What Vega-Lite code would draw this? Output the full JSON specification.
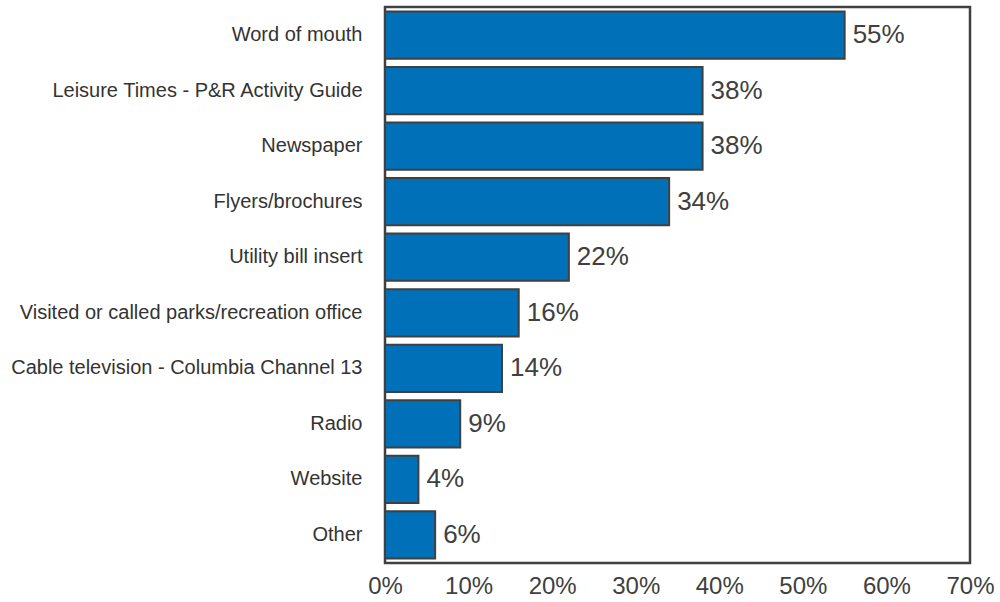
{
  "$schema": "https://vega.github.io/schema/vega-lite/v6.json",
  "autosize": {"type": "none"},
  "padding": {"left": 385, "top": 7, "right": 30, "bottom": 39},
  "width": 585,
  "height": 556,
  "background": "white",
  "view": {"stroke": "#404040", "strokeWidth": 2.5},
  "data": {"values": [
    {"source": "Word of mouth", "pct": 0.55},
    {"source": "Leisure Times - P&R Activity Guide\u00a0\u00a0", "pct": 0.38},
    {"source": "Newspaper", "pct": 0.38},
    {"source": "Flyers/brochures", "pct": 0.34},
    {"source": "Utility bill insert\u00a0", "pct": 0.22},
    {"source": "Visited or called parks/recreation office\u00a0\u00a0", "pct": 0.16},
    {"source": "Cable television - Columbia Channel 13\u00a0", "pct": 0.14},
    {"source": "Radio", "pct": 0.09},
    {"source": "Website", "pct": 0.04},
    {"source": "Other", "pct": 0.06}
  ]},
  "encoding": {
    "y": {
      "field": "source", "type": "nominal", "sort": null,
      "scale": {"paddingInner": 0.15, "paddingOuter": 0.08},
      "axis": {"title": null, "domain": false, "ticks": false, "labelFont": "Liberation Sans", "labelFontSize": 20, "labelColor": "#333333", "labelPadding": 23, "labelLimit": 400}
    },
    "x": {
      "field": "pct", "type": "quantitative",
      "scale": {"domain": [0, 0.7]},
      "axis": {"title": null, "values": [0, 0.1, 0.2, 0.3, 0.4, 0.5, 0.6, 0.7], "format": ".0%", "grid": false, "domain": false, "ticks": false, "labelFont": "Liberation Sans", "labelFontSize": 24, "labelColor": "#404040", "labelPadding": 11, "labelFlush": false}
    }
  },
  "layer": [
    {"mark": {"type": "bar", "color": "#0070B8", "stroke": "#404040", "strokeWidth": 2}},
    {"mark": {"type": "text", "align": "left", "dx": 8, "font": "Liberation Sans", "fontSize": 26, "color": "#404040"},
     "encoding": {"text": {"field": "pct", "type": "quantitative", "format": ".0%"}}}
  ]
}
